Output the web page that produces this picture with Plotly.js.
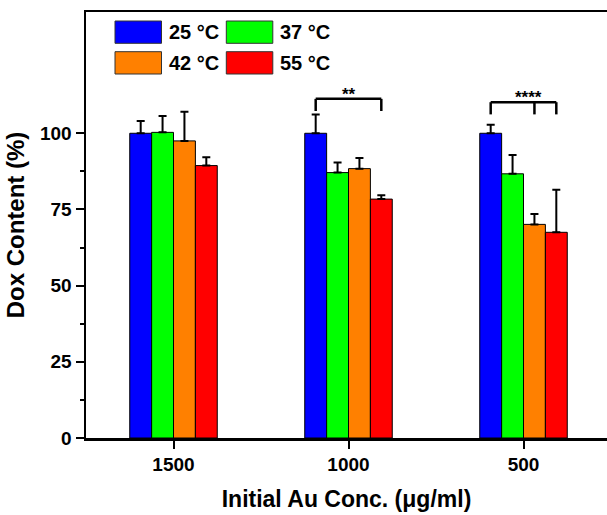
<!DOCTYPE html>
<html>
<head>
<meta charset="utf-8">
<script src="https://cdn.plot.ly/plotly-3.0.1.min.js"></script>
<style>html,body{margin:0;padding:0;background:#fff;overflow:hidden;}</style>
</head>
<body>
<div id="chart" style="width:607px;height:515px;"></div>
<script>
// ---- data ----
const categories = ['1500', '1000', '500'];
const seriesNames = ['25 °C', '37 °C', '42 °C', '55 °C'];
const t25 = [100, 100, 100];
const t37 = [100.3, 87.1, 86.7];
const t42 = [97.5, 88.4, 70.1];
const t55 = [89.4, 78.4, 67.5];
const err25 = [4.0, 6.2, 2.8];
const err37 = [5.4, 3.3, 6.2];
const err42 = [9.6, 3.5, 3.4];
const err55 = [2.7, 1.3, 14.0];
// significance brackets
const sigGroup = [1, 2];          // category index
const sigFrom = [0, 0];           // series index of left end
const sigTo = [3, 3];             // series index of right end
const sigMid = [null, 2];         // optional middle drop
const sigTop = [111.3, 110.2];
const sigBottom = [107.3, 106.2];
const sigLabels = ['**', '****'];

// ---- styles ----
const colors = ['#0000FF', '#00FF00', '#FF8000', '#FF0000'];
const values = [t25, t37, t42, t55];
const errs = [err25, err37, err42, err55];
const FONT = 'Liberation Sans, Arial, sans-serif';
const bargap = 0.5;
const barW = (1 - bargap) / values.length;
const offs = i => (i - (values.length - 1) / 2) * barW;

const traces = values.map((v, i) => ({
  type: 'bar',
  name: seriesNames[i],
  x: categories,
  y: v,
  marker: {color: colors[i], line: {color: '#000', width: 1}},
  error_y: {type: 'data', array: errs[i], arrayminus: errs[i].map(() => 0), symmetric: false,
            visible: true, color: '#000', thickness: 2, width: 4},
  showlegend: false
}));

// layout geometry (pixels)
const W = 607, H = 515, L = 86, T = 12, B = 77;
const plotW = W - L, plotH = H - T - B;
const px2paperX = px => (px - L) / plotW;
const px2paperY = py => (H - B - py) / plotH;

const shapes = [];
const annotations = [];
// brackets
sigGroup.forEach((g, k) => {
  const x0 = g + offs(sigFrom[k]), x1 = g + offs(sigTo[k]);
  const ln = {color: '#000', width: 2.5};
  shapes.push({type: 'line', xref: 'x', yref: 'y', x0: x0, x1: x1, y0: sigTop[k], y1: sigTop[k], line: ln});
  shapes.push({type: 'line', xref: 'x', yref: 'y', x0: x0, x1: x0, y0: sigTop[k], y1: sigBottom[k], line: ln});
  shapes.push({type: 'line', xref: 'x', yref: 'y', x0: x1, x1: x1, y0: sigTop[k], y1: sigBottom[k], line: ln});
  if (sigMid[k] !== null) {
    const xm = g + offs(sigMid[k]);
    shapes.push({type: 'line', xref: 'x', yref: 'y', x0: xm, x1: xm, y0: sigTop[k], y1: sigBottom[k], line: ln});
  }
  annotations.push({xref: 'x', yref: 'y', x: (x0 + x1) / 2 + (sigMid[k] !== null ? 0.03 : 0), y: sigTop[k] - 2.2,
    text: sigLabels[k], showarrow: false, yanchor: 'bottom',
    font: {family: FONT, size: 17, color: '#000', weight: 700}});
});

// custom legend (2 x 2)
const legCols = [115, 226.3];
const legRows = [21, 51.7];
const swW = 46.5, swH = 22.3;
seriesNames.forEach((n, i) => {
  const c = i % 2, r = Math.floor(i / 2);
  const x0 = legCols[c], y0 = legRows[r];
  shapes.push({type: 'rect', xref: 'paper', yref: 'paper',
    x0: px2paperX(x0), x1: px2paperX(x0 + swW), y0: px2paperY(y0 + swH), y1: px2paperY(y0),
    fillcolor: colors[i], line: {color: '#333', width: 1}});
  annotations.push({xref: 'paper', yref: 'paper', x: px2paperX(x0 + swW + 5), y: px2paperY(y0 + swH / 2),
    xanchor: 'left', yanchor: 'middle', showarrow: false, text: n,
    font: {family: FONT, size: 20, color: '#000', weight: 700}});
});

const layout = {
  width: W, height: H,
  margin: {l: L, r: 0, t: T, b: B, pad: 0},
  paper_bgcolor: '#fff', plot_bgcolor: '#fff',
  barmode: 'group', bargap: bargap, bargroupgap: 0,
  xaxis: {
    type: 'category', range: [-0.5, -0.5 + plotW / 175],
    showline: true, linecolor: '#000', linewidth: 2.5, mirror: true,
    ticks: 'outside', ticklen: 8, tickwidth: 2, tickcolor: '#000',
    showgrid: false, zeroline: false,
    tickfont: {family: FONT, size: 19, color: '#000', weight: 700},
    title: {text: 'Initial Au Conc. (μg/ml)', standoff: 17,
      font: {family: FONT, size: 23, color: '#000', weight: 700}}
  },
  yaxis: {
    range: [0, 139.8], tickvals: [0, 25, 50, 75, 100],
    showline: true, linecolor: '#000', linewidth: 2.5, mirror: false,
    ticks: 'outside', ticklen: 8, tickwidth: 2, tickcolor: '#000',
    minor: {tickvals: [12.5, 37.5, 62.5, 87.5], ticks: 'outside', ticklen: 4, tickwidth: 2, tickcolor: '#000', showgrid: false},
    showgrid: false, zeroline: false,
    tickfont: {family: FONT, size: 19, color: '#000', weight: 700},
    title: {text: 'Dox Content (%)', standoff: 9,
      font: {family: FONT, size: 24, color: '#000', weight: 700}}
  },
  shapes: shapes,
  annotations: annotations,
  showlegend: false
};

Plotly.newPlot('chart', traces, layout, {displayModeBar: false, staticPlot: true});
</script>
</body>
</html>
